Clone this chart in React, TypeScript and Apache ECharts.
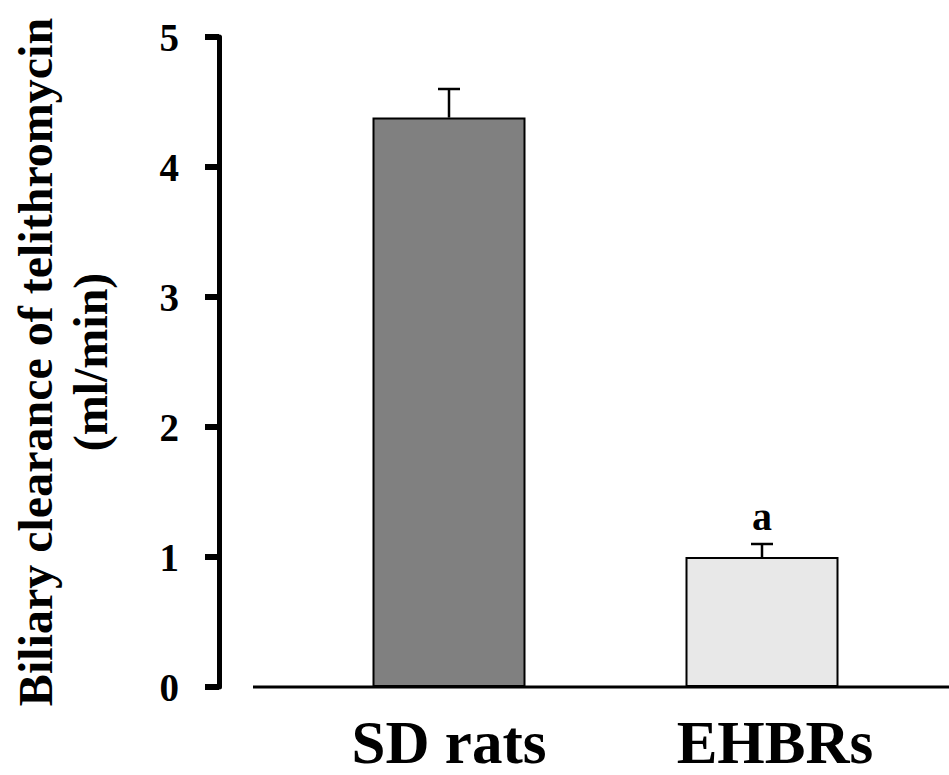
import React, { useEffect, useRef } from "react";
import * as echarts from "echarts";

const categories = ["SD rats", "EHBRs"];
const values = [4.38, 1.0];
const errors = [0.22, 0.1];
const notes = ["", "a"];
const barColors = ["#808080", "#e8e8e8"];
const yTicks = [0, 1, 2, 3, 4, 5];
const yTitle = "Biliary clearance of telithromycin\n(ml/min)";

const FONT = '"Liberation Serif", "Times New Roman", serif';

export default function App() {
  const ref = useRef<HTMLDivElement>(null);
  useEffect(() => {
    if (!ref.current) return;
    const chart = echarts.init(ref.current, undefined, { renderer: "svg" });
    chart.setOption({
      animation: false,
      backgroundColor: "#ffffff",
      grid: {
        left: 292.5,
        right: 30.5,
        top: 37,
        bottom: 88,
        containLabel: false,
        outerBoundsMode: "none",
      },
      xAxis: {
        type: "category",
        data: categories.map((c, i) =>
          i === 1 ? { value: c, textStyle: { padding: [0, 0, 0, 26] } } : c
        ),
        axisLine: { show: false },
        axisTick: { show: false },
        axisLabel: {
          fontFamily: FONT,
          fontWeight: "bold",
          fontSize: 61,
          lineHeight: 50,
          color: "#000",
          margin: 30,
        },
      },
      yAxis: {
        type: "value",
        min: yTicks[0],
        max: yTicks[yTicks.length - 1],
        interval: 1,
        offset: 73.5,
        splitLine: { show: false },
        axisLine: { show: true, lineStyle: { color: "#000", width: 5 } },
        axisTick: { show: true, length: 14, lineStyle: { color: "#000", width: 6 } },
        axisLabel: {
          fontFamily: FONT,
          fontWeight: "bold",
          fontSize: 39,
          color: "#000",
          margin: 40,
        },
        name: yTitle,
        nameLocation: "middle",
        nameRotate: 90,
        nameGap: 101,
        nameTextStyle: {
          fontFamily: FONT,
          fontWeight: "bold",
          fontSize: 48,
          lineHeight: 55,
          color: "#000",
          align: "center",
        },
      },
      graphic: [
        {
          type: "line",
          shape: { x1: 253, y1: 687, x2: 949, y2: 687 },
          style: { stroke: "#000", lineWidth: 3 },
          z: 10,
        },
      ],
      series: [
        {
          type: "bar",
          barWidth: 153,
          data: values.map((v, i) => ({
            value: v,
            itemStyle: { color: barColors[i], borderColor: "#000", borderWidth: 2 },
          })),
        },
        {
          type: "custom",
          data: categories.map((c, i) => [i, values[i], errors[i]]),
          encode: { x: 0, y: 1 },
          z: 5,
          renderItem: (params: any, api: any) => {
            const x = api.value(0);
            const v = api.value(1);
            const e = api.value(2);
            const base = api.coord([x, v]);
            const top = api.coord([x, v + e]);
            const half = 11;
            const children: any[] = [
              {
                type: "line",
                shape: { x1: base[0], y1: base[1], x2: top[0], y2: top[1] },
                style: { stroke: "#000", lineWidth: 2.5 },
              },
              {
                type: "line",
                shape: { x1: top[0] - half, y1: top[1], x2: top[0] + half, y2: top[1] },
                style: { stroke: "#000", lineWidth: 2.5 },
              },
            ];
            const note = notes[params.dataIndex];
            if (note) {
              children.push({
                type: "text",
                x: top[0],
                y: top[1] - 8,
                style: {
                  text: note,
                  font: `bold 40px ${FONT}`,
                  fill: "#000",
                  align: "center",
                  verticalAlign: "bottom",
                },
              });
            }
            return { type: "group", children };
          },
        },
      ],
    });
    return () => chart.dispose();
  }, []);
  return (
    <div
      ref={ref}
      style={{ position: "fixed", left: 0, top: 0, width: 949, height: 775 }}
    />
  );
}
